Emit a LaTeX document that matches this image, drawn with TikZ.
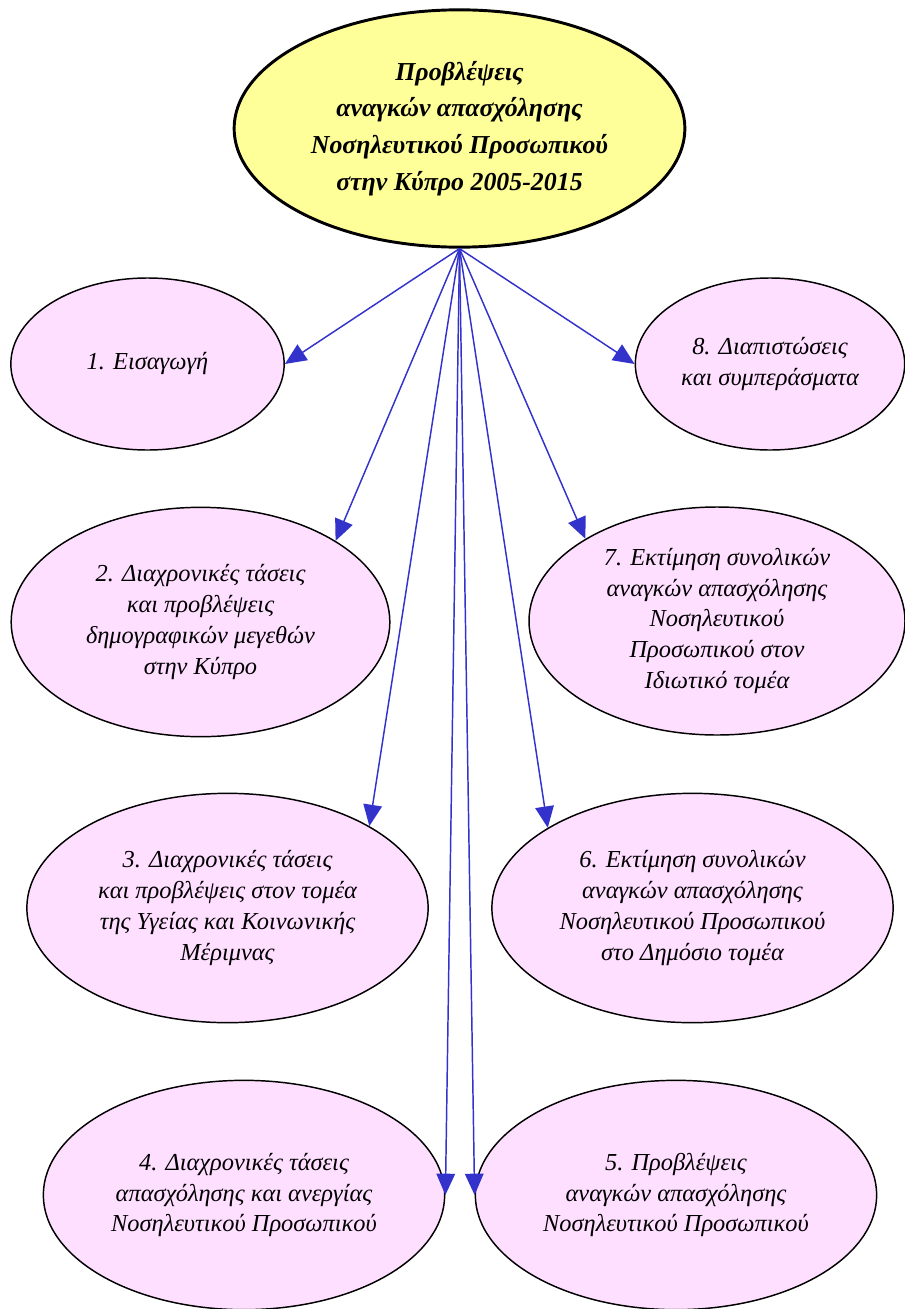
\documentclass[tikz,border=0pt]{standalone}
\usepackage{fontspec}
\setmainfont{Liberation Serif}
\usetikzlibrary{shapes.geometric,arrows.meta}
\definecolor{topyellow}{HTML}{FFFF99}
\definecolor{boxpink}{HTML}{FFDFFF}
\definecolor{arrowblue}{HTML}{3333CC}
\tikzset{
  topnode/.style={ellipse, draw=black, line width=2.2pt, fill=topyellow, inner sep=0pt,
    align=center, font=\fontsize{19.4}{27.5}\selectfont\bfseries\itshape},
  chapter/.style={ellipse, draw=black, line width=1.1pt, fill=boxpink, inner sep=0pt,
    align=center, font=\fontsize{18.3}{23.2}\selectfont\itshape},
  link/.style={draw=arrowblue, line width=1.1pt, -{Triangle[length=16pt,width=14pt]}, fill=arrowblue}
}
\begin{document}
\begin{tikzpicture}[x=0.75pt,y=-0.75pt]
\useasboundingbox (0,0) rectangle (905,1309);
\node[topnode, minimum width=338pt, minimum height=178pt] (top) at (459.5,128.5)
  {Προβλέψεις\\αναγκών απασχόλησης\\Νοσηλευτικού Προσωπικού\\στην Κύπρο 2005-2015};
\node[chapter, minimum width=205pt, minimum height=129pt] (e1) at (147.5,364) {1. Εισαγωγή};
\node[chapter, minimum width=202pt, minimum height=129pt] (e8) at (770,364) {8. Διαπιστώσεις\\και συμπεράσματα};
\node[chapter, minimum width=284pt, minimum height=172pt] (e2) at (200.5,622) {2. Διαχρονικές τάσεις\\και προβλέψεις\\δημογραφικών μεγεθών\\στην Κύπρο};
\node[chapter, minimum width=282pt, minimum height=171pt] (e7) at (717,621) {7. Εκτίμηση συνολικών\\αναγκών απασχόλησης\\Νοσηλευτικού\\Προσωπικού στον\\Ιδιωτικό τομέα};
\node[chapter, minimum width=301pt, minimum height=172pt] (e3) at (227.5,908) {3. Διαχρονικές τάσεις\\και προβλέψεις στον τομέα\\της Υγείας και Κοινωνικής\\Μέριμνας};
\node[chapter, minimum width=301pt, minimum height=172pt] (e6) at (692.5,908) {6. Εκτίμηση συνολικών\\αναγκών απασχόλησης\\Νοσηλευτικού Προσωπικού\\στο Δημόσιο τομέα};
\node[chapter, minimum width=301pt, minimum height=172pt] (e4) at (244,1195) {4. Διαχρονικές τάσεις\\απασχόλησης και ανεργίας\\Νοσηλευτικού Προσωπικού};
\node[chapter, minimum width=301pt, minimum height=172pt] (e5) at (676,1195) {5. Προβλέψεις\\αναγκών απασχόλησης\\Νοσηλευτικού Προσωπικού};
\draw[link] (top.south) -- (e1.east);
\draw[link] (top.south) -- (e8.west);
\draw[link] (top.south) -- (e2.31);
\draw[link] (top.south) -- (e7.148);
\draw[link] (top.south) -- (e3.30);
\draw[link] (top.south) -- (e6.151);
\draw[link] (top.south) -- (e4.east);
\draw[link] (top.south) -- (e5.west);
\end{tikzpicture}
\end{document}
